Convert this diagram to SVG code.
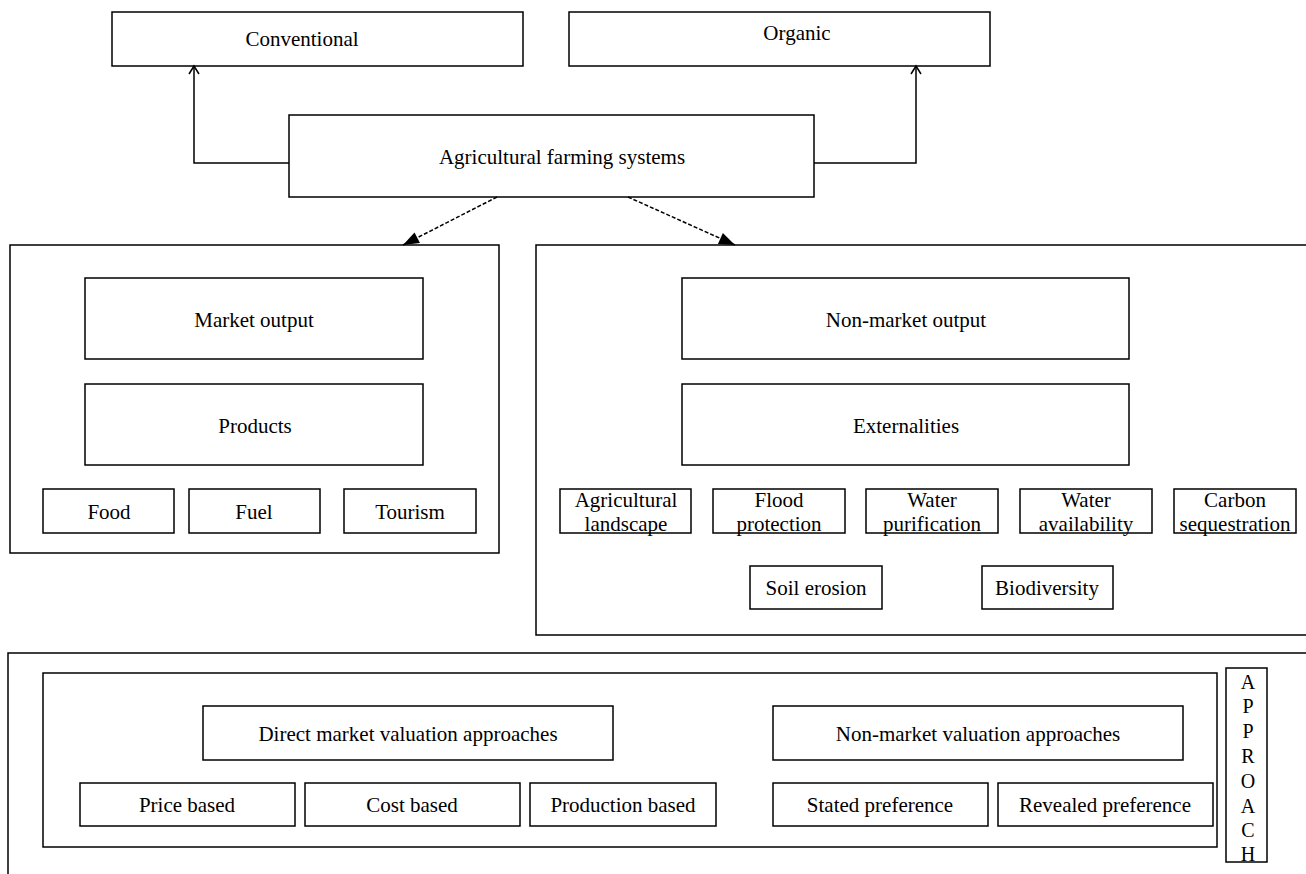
<svg xmlns="http://www.w3.org/2000/svg" width="1306" height="874" viewBox="0 0 1306 874">
<style>
rect{fill:#fff;stroke:#000;stroke-width:1.5}
text{font-family:"Liberation Serif","Times New Roman",serif;font-size:21px;fill:#000;text-anchor:middle;dominant-baseline:central}
.c{fill:none;stroke:#000;stroke-width:1.5}
.d{fill:none;stroke:#000;stroke-width:1.5;stroke-dasharray:4 2}
.open{fill:none;stroke:#000;stroke-width:1.5}
.ap{font-size:20px}
</style>
<defs>
<marker id="mOpen" viewBox="-10 -7 12 14" refX="0" refY="0" markerWidth="12" markerHeight="14" markerUnits="userSpaceOnUse" orient="auto">
<path class="open" d="M-8,-5 L0,0 L-8,5"/>
</marker>
<marker id="mSolid" viewBox="-17 -8 18 16" refX="0" refY="0" markerWidth="18" markerHeight="16" markerUnits="userSpaceOnUse" orient="auto">
<path d="M-16,-6 L0,0 L-16,6 Z" fill="#000"/>
</marker>
</defs>

<g id="frames">
<path class="c" d="M10,245 H499 V553 H10 Z"/>
<path class="c" d="M1310,245 H536 V635 H1310"/>
<path class="c" d="M1310,653 H8 V880"/>
</g>

<g id="n-conventional"><rect x="112" y="12" width="411" height="54"/><text x="302" y="39">Conventional</text></g>
<g id="n-organic"><rect x="569" y="12" width="421" height="54"/><text x="797" y="33">Organic</text></g>
<g id="n-afs"><rect x="289" y="115" width="525" height="82"/><text x="562" y="157">Agricultural farming systems</text></g>

<g id="n-market"><rect x="85" y="278" width="338" height="81"/><text x="254" y="320">Market output</text></g>
<g id="n-products"><rect x="85" y="384" width="338" height="81"/><text x="255" y="426">Products</text></g>
<g id="n-food"><rect x="43" y="489" width="131" height="44"/><text x="109" y="512">Food</text></g>
<g id="n-fuel"><rect x="189" y="489" width="131" height="44"/><text x="254" y="512">Fuel</text></g>
<g id="n-tourism"><rect x="344" y="489" width="132" height="44"/><text x="410" y="512">Tourism</text></g>

<g id="n-nonmarket"><rect x="682" y="278" width="447" height="81"/><text x="906" y="320">Non-market output</text></g>
<g id="n-externalities"><rect x="682" y="384" width="447" height="81"/><text x="906" y="426">Externalities</text></g>
<g id="n-landscape"><rect x="560" y="489" width="131" height="44"/><text x="626" y="500">Agricultural</text><text x="626" y="524">landscape</text></g>
<g id="n-flood"><rect x="713" y="489" width="132" height="44"/><text x="779" y="500">Flood</text><text x="779" y="524">protection</text></g>
<g id="n-purification"><rect x="866" y="489" width="132" height="44"/><text x="932" y="500">Water</text><text x="932" y="524">purification</text></g>
<g id="n-availability"><rect x="1020" y="489" width="132" height="44"/><text x="1086" y="500">Water</text><text x="1086" y="524">availability</text></g>
<g id="n-carbon"><rect x="1174" y="489" width="122" height="44"/><text x="1235" y="500">Carbon</text><text x="1235" y="524">sequestration</text></g>
<g id="n-soil"><rect x="750" y="566" width="132" height="43"/><text x="816" y="588">Soil erosion</text></g>
<g id="n-biodiversity"><rect x="982" y="566" width="131" height="43"/><text x="1047" y="588">Biodiversity</text></g>

<g id="n-valuation"><rect x="43" y="673" width="1174" height="174"/></g>
<g id="n-direct"><rect x="203" y="706" width="410" height="54"/><text x="408" y="734">Direct market valuation approaches</text></g>
<g id="n-nonvaluation"><rect x="773" y="706" width="410" height="54"/><text x="978" y="734">Non-market valuation approaches</text></g>
<g id="n-price"><rect x="80" y="783" width="215" height="43"/><text x="187" y="805">Price based</text></g>
<g id="n-cost"><rect x="305" y="783" width="215" height="43"/><text x="412" y="805">Cost based</text></g>
<g id="n-production"><rect x="530" y="783" width="186" height="43"/><text x="623" y="805">Production based</text></g>
<g id="n-stated"><rect x="773" y="783" width="215" height="43"/><text x="880" y="805">Stated preference</text></g>
<g id="n-revealed"><rect x="998" y="783" width="215" height="43"/><text x="1105" y="805">Revealed preference</text></g>
<g id="n-approach"><rect x="1226" y="668" width="41" height="194"/>
<text class="ap" x="1248" y="682">A</text><text class="ap" x="1248" y="706">P</text><text class="ap" x="1248" y="731">P</text><text class="ap" x="1248" y="756">R</text><text class="ap" x="1248" y="781">O</text><text class="ap" x="1248" y="806">A</text><text class="ap" x="1248" y="830">C</text><text class="ap" x="1248" y="854">H</text>
</g>

<g id="connectors">
<path class="c" d="M289,163 H194 V66" marker-end="url(#mOpen)"/>
<path class="c" d="M814,163 H916 V66" marker-end="url(#mOpen)"/>
<path class="d" d="M497,197 L403,245" marker-end="url(#mSolid)"/>
<path class="d" d="M628,197 L735,245" marker-end="url(#mSolid)"/>
</g>
</svg>
